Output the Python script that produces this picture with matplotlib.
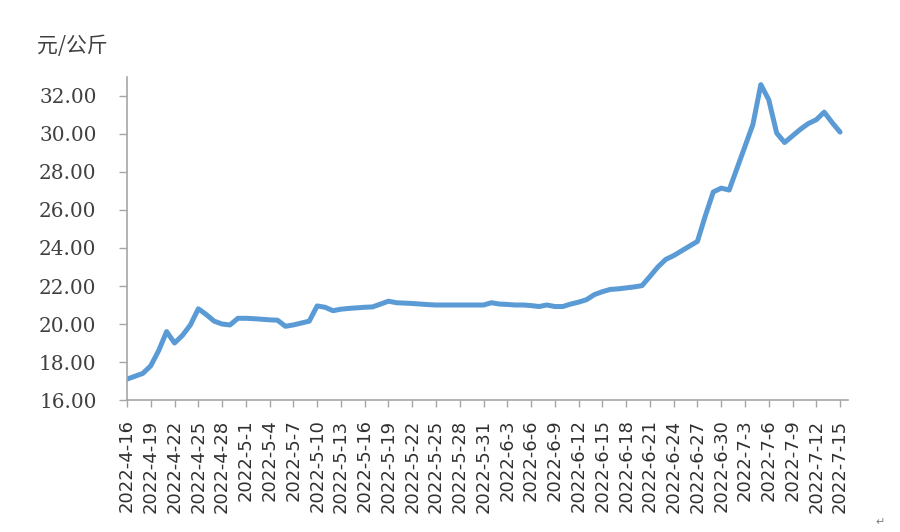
import numpy as np
import pandas as pd
import matplotlib
matplotlib.use('Agg')
import matplotlib.pyplot as plt

# daily price, 2022-4-16 .. 2022-7-15 (yuan per kg)
dates = pd.date_range('2022-04-16', '2022-07-15', freq='D')
price = [17.10, 17.25, 17.40, 17.80, 18.60, 19.60, 19.00, 19.40, 19.95, 20.80,
         20.50, 20.15, 20.00, 19.95, 20.30, 20.30, 20.28, 20.25, 20.22, 20.20,
         19.88, 19.95, 20.05, 20.15, 20.95, 20.88, 20.70, 20.78, 20.82, 20.85,
         20.88, 20.90, 21.05, 21.20, 21.12, 21.10, 21.08, 21.05, 21.02, 21.00,
         21.00, 21.00, 21.00, 21.00, 21.00, 21.00, 21.12, 21.05, 21.03, 21.00,
         21.00, 20.97, 20.92, 21.00, 20.92, 20.92, 21.05, 21.15, 21.28, 21.55,
         21.70, 21.82, 21.85, 21.90, 21.95, 22.02, 22.50, 23.00, 23.40, 23.60,
         23.85, 24.10, 24.35, 25.70, 26.95, 27.15, 27.05, 28.20, 29.35, 30.50,
         32.60, 31.80, 30.05, 29.55, 29.90, 30.25, 30.55, 30.75, 31.15, 30.60,
         30.10]

tick_labels = ['2022-4-16', '2022-4-19', '2022-4-22', '2022-4-25', '2022-4-28',
               '2022-5-1', '2022-5-4', '2022-5-7', '2022-5-10', '2022-5-13',
               '2022-5-16', '2022-5-19', '2022-5-22', '2022-5-25', '2022-5-28',
               '2022-5-31', '2022-6-3', '2022-6-6', '2022-6-9', '2022-6-12',
               '2022-6-15', '2022-6-18', '2022-6-21', '2022-6-24', '2022-6-27',
               '2022-6-30', '2022-7-3', '2022-7-6', '2022-7-9', '2022-7-12',
               '2022-7-15']
y_ticks = [16, 18, 20, 22, 24, 26, 28, 30, 32]

days = (dates - dates[0]).days.values
tick_pos = np.arange(0, len(dates), 3)

fig = plt.figure(figsize=(9, 5.32), dpi=100)
ax = fig.add_axes([0.1411, 0.2481, 0.8011, 0.6072])

ax.plot(days, price, color='#5B9BD5', lw=3.6, solid_joinstyle='round', solid_capstyle='round')

ax.set_xlim(0, 91)
ax.set_ylim(16, 33)
ax.set_yticks(y_ticks)
ax.set_yticklabels([f'{v:.2f}' for v in y_ticks], family='DejaVu Serif', fontsize=14.4, color='#404040')
ax.set_xticks(tick_pos)
ax.set_xticklabels(tick_labels, rotation=90, fontsize=13, color='#303030')

for s in ['top', 'right']:
    ax.spines[s].set_visible(False)
for s in ['left', 'bottom']:
    ax.spines[s].set_color('#A6A6A6')
    ax.spines[s].set_linewidth(1.2)
ax.tick_params(axis='y', length=6, width=1, color='#A6A6A6', pad=16)
ax.tick_params(axis='x', length=5, width=1, color='#A6A6A6', pad=9)

fig.text(0.041, 0.913, '元/公斤', family=['Noto Sans CJK SC', 'DejaVu Sans'],
         fontsize=15, color='#404040', va='center', ha='left')
fig.text(0.978, 0.018, '↵', fontsize=8, color='#808080', ha='center', va='center')

fig.savefig('out.png', dpi=100)
